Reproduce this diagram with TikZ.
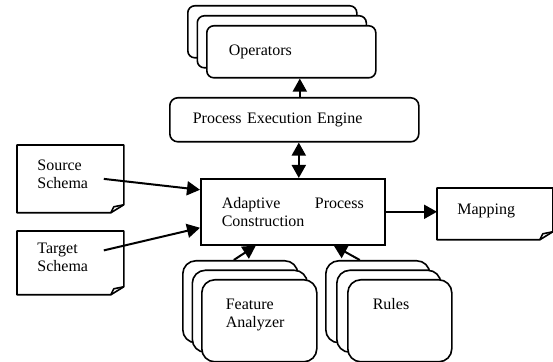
\documentclass[tikz,border=0pt]{standalone}
\usepackage{fontspec}
\setmainfont{Liberation Serif}
\usetikzlibrary{arrows}
\usetikzlibrary{calc,arrows.meta}

\begin{document}
\begin{tikzpicture}[x=0.5pt,y=-0.5pt,
	every node/.style={font=\fontsize{8}{9}\selectfont,inner sep=0pt,anchor=north west,align=left},
	stack/.style={draw,line width=0.8pt,fill=white},
	box/.style={draw,line width=0.8pt,fill=white},
	doc/.style={line width=0.8pt,line join=round},
	arr/.style={line width=1pt,-{Triangle[length=6.5pt,width=7pt]}},
	darr/.style={line width=1pt,{Triangle[length=6.5pt,width=7pt]}-{Triangle[length=6.5pt,width=7pt]}}]
	\useasboundingbox (0,0) rectangle (553,362);
	%% back sheets of the three stacks drawn with a loop
	\foreach \n/\x/\y/\w/\h/\dx/\dy/\r in {ops/206/25/169/52/9.5/10/3.5, fea/201/279/115/82/9.5/9.5/6.5, rul/347/279/104/82/11/9.5/6.5}{
		\foreach \k in {2,1}{
			\node[stack,rounded corners=\r pt,minimum width=\w*0.5pt,minimum height=\h*0.5pt] (\n\k) at (\x-\k*\dx,\y-\k*\dy){};
		}
	}
	%front sheets and plain boxes placed by hand
	\node[stack,rounded corners=3.5pt,minimum height=26pt,text width=62.5pt,inner xsep=11pt] (ops) at (206,25){Operators};
	\node[stack,rounded corners=4pt,minimum height=22pt,text width=101.5pt,inner xsep=11.5pt] (pee) at (169,97){Process Execution Engine};
	\node[box,minimum height=33pt,text width=71pt,inner xsep=10.5pt] (acp) at (200,178){Adaptive\hfill Process\\Construction};
	\node[stack,rounded corners=6.5pt,minimum height=41pt,text width=33.5pt,inner xsep=12pt,text depth=17pt] (fea) at (201,279){Feature\\Analyzer};
	\node[stack,rounded corners=6.5pt,minimum height=41pt,text width=27pt,inner xsep=12.5pt,text depth=17pt] (rul) at (347,279){Rules};
	%% documents with a folded corner
	\node[minimum height=33.5pt,text width=33pt,inner xsep=10pt,text depth=14pt] (src) at (17,145){Source\\Schema};
	\node[minimum height=31.5pt,text width=33pt,inner xsep=10pt,text depth=15pt] (tgt) at (17,231){Target\\Schema};
	\node[minimum height=25.5pt,text width=37.5pt,inner xsep=10pt,text depth=5pt] (map) at (437,188){Mapping};
	\foreach \d in {src,tgt,map}{
		\draw[doc] (\d.north west)--(\d.north east)--($(\d.south east)+(0,-8)$)--($(\d.south east)+(-13,0)$)--(\d.south west)--cycle;
		\draw[doc] ($(\d.south east)+(-13,0)$)--($(\d.south east)+(-10,-6)$)--($(\d.south east)+(0,-8)$);
	}
	%% connectors
	\coordinate (up) at ($(pee.north)+(5.5,0)$);
	\coordinate (dn) at ($(pee.south)+(4.5,0)$);
	\draw[arr] (up)--(up |- ops.south);
	\draw[darr] (dn)--(dn |- acp.north);
	\draw[arr] ($(src.east)+(-20,0)$)--($(acp.west)+(0,-22)$);
	\draw[arr] ($(tgt.east)+(-20,-12.5)$)--($(acp.west)+(0,16)$);
	\draw[arr] (acp.east)--(acp.east -| map.west);
	\draw[arr] ($(fea2.north)+(-6.5,0)$)--($(acp.south)+(-37,0)$);
	\draw[arr] ($(rul2.north)+(-18,0)$)--($(acp.south)+(41,0)$);
\end{tikzpicture}
\end{document}
